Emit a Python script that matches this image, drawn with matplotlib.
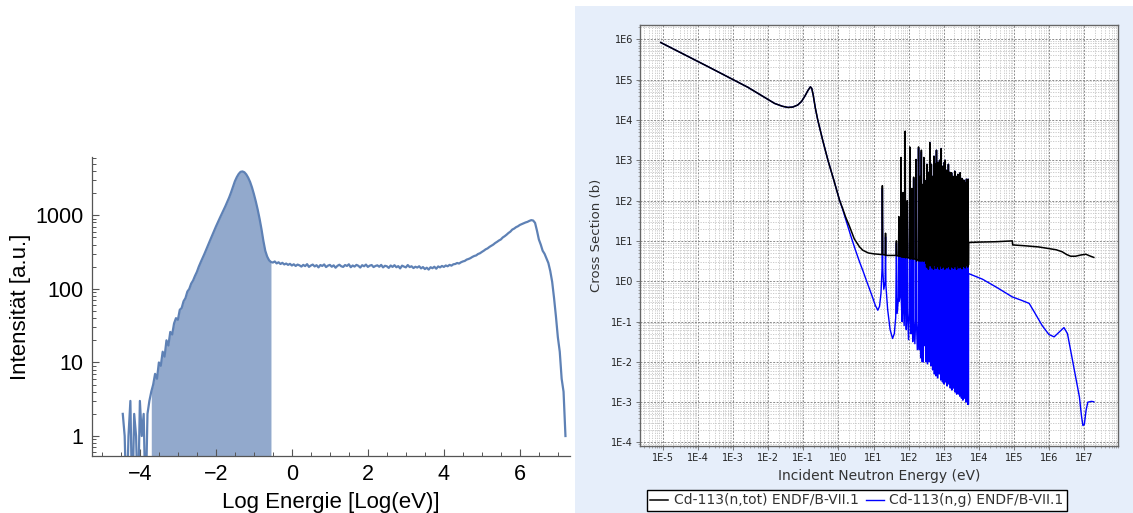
import numpy as np
import matplotlib.pyplot as plt
from matplotlib.patches import Rectangle
from matplotlib.ticker import FixedLocator, MultipleLocator, LogLocator, NullFormatter

# ---------------- left panel: measured neutron spectrum ----------------
# counts per bin of log10(E/eV); bins are 0.05 wide, first one at -4.45
bin_start = -4.45
bin_width = 0.05
counts = [
    2, 1, 0, 1, 3, 0, 2, 1, 0, 3, 1, 2, 0, 2, 3,
    4, 5, 7, 6, 10, 9, 14, 12, 20, 17, 26, 24, 34, 40, 38, 52, 55, 68, 75, 92,
    100, 118, 130, 150, 170, 200, 230, 262, 300, 345, 400, 460, 530, 610, 700, 800, 910, 1030, 1170, 1330,
    1520, 1750, 2050, 2450, 2900, 3300, 3650, 3900, 3950, 3850, 3600, 3250, 2850, 2400, 1950, 1550, 1200, 900, 650, 450,
    330, 275, 245, 232, 228, 236, 222, 230, 218, 226, 215, 221, 212, 219, 208, 216, 205, 214, 209, 201,
    212, 204, 217, 199, 208, 214, 202, 210, 196, 211, 205, 215, 198, 207, 212, 200, 209, 194, 206, 213,
    203, 199, 211, 205, 216, 197, 208, 201, 212, 206, 195, 210, 203, 214, 199, 207, 211, 198, 205, 209,
    200, 212, 196, 206, 203, 193, 208, 199, 210, 197, 204, 190, 207, 201, 196, 211, 198, 203, 192, 200,
    195, 203, 190, 198, 186, 194, 183, 197, 191, 200, 188, 202, 196, 205, 199, 208, 203, 212, 207, 216,
    218, 225, 221, 230, 236, 240, 250, 255, 262, 272, 280, 285, 298, 305, 318, 330, 345, 355, 372, 385,
    400, 420, 436, 455, 470, 500, 520, 545, 575, 600, 640, 660, 690, 710, 740, 760, 780, 800, 815, 840,
    860, 850, 790, 620, 470, 400, 330, 300, 260, 225, 175, 125, 75, 42, 22, 14, 6, 4, 1,
]
thermal_lo, thermal_hi = -3.70, -0.55   # shaded thermal part

# ---------------- right panel: Cd-113 cross sections ----------------
# all values are log10(E/eV) and log10(sigma/b)
# thermal range, where capture ~ total
thermal_loge = [-5.06, -3.71, -2.58, -2.2, -1.82, -1.6, -1.44, -1.3, -1.16, -1.05, -0.95, -0.87,
                -0.80, -0.76, -0.72, -0.66, -0.59, -0.45, -0.30, -0.13, 0.03]
thermal_logxs = [5.92, 5.32, 4.81, 4.61, 4.41, 4.34, 4.31, 4.32, 4.37, 4.46, 4.60, 4.73,
                 4.82, 4.78, 4.62, 4.30, 4.00, 3.50, 3.00, 2.50, 2.01]

# total, 1 eV up to the dense resonance cluster
tot_loge = [0.12, 0.20, 0.31, 0.45, 0.60, 0.69, 0.85, 1.00,
            1.24, 1.25, 1.262, 1.33, 1.34, 1.35, 1.64, 1.65, 1.66, 1.71, 1.72, 1.73,
            1.77, 1.78, 1.79, 1.83, 1.84, 1.85, 1.89, 1.90, 1.91, 1.95, 1.96, 1.97,
            2.02, 2.03, 2.04, 2.08, 2.09, 2.10, 2.13, 2.14, 2.15, 2.20, 2.21, 2.22,
            2.27, 2.28, 2.29, 2.31, 2.32, 2.33, 2.35, 2.36, 2.37, 2.39, 2.40, 2.41,
            2.42, 2.43, 2.44]
tot_logxs = [1.80, 1.60, 1.37, 1.05, 0.85, 0.77, 0.70, 0.68,
             0.66, 2.37, 0.66, 0.65, 1.19, 0.64, 0.64, 1.00, 0.63, 0.63, 1.60, 0.62,
             0.62, 3.07, 0.60, 0.60, 2.20, 0.60, 0.60, 3.72, 0.58, 0.60, 2.00, 0.58,
             0.58, 3.33, 0.55, 0.58, 2.30, 0.55, 0.56, 2.58, 0.55, 0.55, 3.02, 0.50,
             0.55, 3.33, 0.50, 0.55, 2.60, 0.50, 0.55, 3.25, 0.50, 0.55, 2.40, 0.50,
             0.55, 3.07, 0.50]

# capture, same range
cap_loge = [0.12, 0.20, 0.36, 0.48, 0.60, 0.70, 0.79, 0.95, 1.05, 1.12, 1.17, 1.21,
            1.24, 1.25, 1.262, 1.29, 1.33, 1.34, 1.35, 1.40, 1.47, 1.54, 1.59, 1.63,
            1.65, 1.67, 1.71, 1.72, 1.73, 1.77, 1.78, 1.79, 1.81, 1.83, 1.84, 1.85,
            1.87, 1.89, 1.90, 1.91, 1.93, 1.95, 1.96, 1.97, 1.995, 2.02, 2.03, 2.04,
            2.065, 2.08, 2.09, 2.10, 2.115, 2.13, 2.14, 2.15, 2.175, 2.20, 2.21, 2.22,
            2.245, 2.27, 2.28, 2.29, 2.30, 2.31, 2.32, 2.33, 2.34, 2.35, 2.36, 2.37,
            2.385, 2.39, 2.40, 2.41, 2.415, 2.42, 2.43, 2.44]
cap_logxs = [1.78, 1.55, 1.10, 0.78, 0.48, 0.25, 0.03, -0.35, -0.60, -0.72, -0.62, -0.30,
             0.30, 2.30, 0.30, -0.20, 0.00, 1.10, -0.10, -0.70, -1.20, -1.42, -1.30, -0.90,
             0.95, -0.80, -0.40, 1.55, -0.50, -0.30, 3.05, -0.50, -1.00, -0.60, 2.15, -0.50,
             -1.10, -0.50, 3.70, -0.50, -1.20, -0.60, 1.95, -0.80, -1.45, -0.70, 3.30, -0.70,
             -1.30, -0.80, 2.25, -0.90, -1.50, -1.00, 2.55, -1.00, -1.55, -0.90, 3.00, -1.00,
             -1.70, -1.00, 3.30, -1.20, -1.70, -1.30, 2.55, -1.40, -1.90, -1.20, 3.20, -1.30,
             -2.00, -1.50, 2.35, -1.50, -2.00, -1.40, 3.00, -1.60]

# dense cluster: resonance energies, peak of total,
# and the dip of total / capture after each resonance
res_loge = [2.47, 2.50, 2.52, 2.55, 2.57, 2.60, 2.62, 2.645, 2.67, 2.69, 2.72, 2.74, 2.765, 2.79,
            2.81, 2.835, 2.86, 2.88, 2.90, 2.925, 2.95, 2.97, 2.99, 3.015, 3.04, 3.06, 3.08, 3.105,
            3.13, 3.15, 3.17, 3.195, 3.22, 3.24, 3.26, 3.285, 3.31, 3.33, 3.35, 3.375, 3.40, 3.42,
            3.44, 3.465, 3.49, 3.51, 3.53, 3.555, 3.58, 3.60, 3.62, 3.645, 3.67, 3.69]
res_peak = [2.5, 2.1, 2.9, 2.3, 2.7, 3.44, 2.4, 2.9, 2.6, 2.58, 3.1, 2.5, 2.9, 3.25,
            2.7, 2.95, 2.6, 3.0, 2.8, 3.29, 2.6, 2.85, 2.7, 2.95, 3.0, 2.6, 2.75, 2.5,
            2.9, 2.6, 2.7, 2.45, 2.69, 2.5, 2.6, 2.4, 2.73, 2.55, 2.6, 2.4, 2.65, 2.5,
            2.45, 2.69, 2.4, 2.55, 2.53, 2.35, 2.5, 2.45, 2.4, 2.53, 2.45, 2.53]
res_tot_dip = [0.45, 0.35, 0.5, 0.3, 0.42, 0.38, 0.5, 0.33, 0.45, 0.3, 0.4, 0.48, 0.32, 0.42,
               0.36, 0.5, 0.3, 0.44, 0.38, 0.32, 0.47, 0.35, 0.42, 0.3, 0.45, 0.38, 0.33, 0.48,
               0.36, 0.42, 0.3, 0.45, 0.35, 0.4, 0.32, 0.47, 0.36, 0.42, 0.3, 0.44, 0.38, 0.33,
               0.46, 0.35, 0.4, 0.31, 0.45, 0.37, 0.42, 0.33, 0.46, 0.38, 0.35, 0.40]
res_cap_dip = [-2.0, -1.5, -2.05, -1.7, -2.0, -1.6, -2.1, -1.8, -2.2, -1.7, -2.3, -1.9, -2.35, -2.0,
               -2.4, -2.0, -2.3, -2.1, -2.45, -2.0, -2.5, -2.2, -2.55, -2.1, -2.5, -2.3, -2.6, -2.2,
               -2.55, -2.35, -2.65, -2.3, -2.7, -2.4, -2.65, -2.45, -2.75, -2.4, -2.8, -2.5, -2.8, -2.55,
               -2.85, -2.6, -2.9, -2.6, -2.95, -2.7, -2.9, -2.75, -3.0, -2.8, -3.05, -3.05]

# fast range above the resonance cluster
tot_fast_loge = [3.705, 4.0, 4.5, 4.95, 4.96, 5.3, 5.7, 5.99, 6.2, 6.37, 6.5, 6.61, 6.75, 6.9, 7.04, 7.15, 7.27]
tot_fast_logxs = [0.96, 0.97, 0.98, 1.00, 0.90, 0.88, 0.85, 0.81, 0.78, 0.73, 0.66, 0.62, 0.62, 0.65, 0.67, 0.63, 0.59]
cap_fast_loge = [3.705, 3.9, 4.1, 4.5, 4.95, 5.2, 5.43, 5.6, 5.8, 5.99, 6.14, 6.3, 6.42, 6.52, 6.65,
                 6.78, 6.86, 6.92, 6.96, 7.0, 7.05, 7.1, 7.2, 7.27]
cap_fast_logxs = [0.19, 0.12, 0.05, -0.15, -0.39, -0.47, -0.55, -0.80, -1.10, -1.32, -1.38, -1.25, -1.15, -1.30, -1.90,
                  -2.50, -2.87, -3.35, -3.58, -3.55, -3.20, -3.00, -2.98, -2.99]

legend_labels = ["Cd-113(n,tot) ENDF/B-VII.1", "Cd-113(n,g) ENDF/B-VII.1"]


def cluster(peak_v, dip_v):
    # peak at each resonance, dip half way to the next one
    e = np.asarray(res_loge)
    mids = np.append((e[:-1] + e[1:]) / 2, e[-1] + 0.01)
    xs = np.column_stack([e, mids]).ravel()
    ys = np.column_stack([peak_v, dip_v]).ravel()
    return xs, ys


fig = plt.figure(figsize=(11.33, 5.13), dpi=100)

# ---------------- left panel ----------------
blue_m = '#5E81B5'
ax1 = fig.add_axes([0.0812, 0.1111, 0.4219, 0.5828])
x = bin_start + bin_width * np.arange(len(counts))
y = np.array(counts, dtype=float)
y = np.where(y > 0, y, 0.1)      # empty bins drop below the axis
m = (x >= thermal_lo - 1e-9) & (x <= thermal_hi + 1e-9)
ax1.fill_between(x[m], 0.1, y[m], color=blue_m, alpha=0.68, lw=0)
ax1.plot(x, y, color=blue_m, lw=1.6)
ax1.set_yscale('log')
ax1.set_xlim(-5.26, 7.32)
ax1.set_ylim(0.535, 6200)
for s in ['top', 'right']:
    ax1.spines[s].set_visible(False)
for s in ['left', 'bottom']:
    ax1.spines[s].set_color('#555555')
    ax1.spines[s].set_linewidth(0.9)
ax1.xaxis.set_major_locator(FixedLocator([-4, -2, 0, 2, 4, 6]))
ax1.xaxis.set_minor_locator(MultipleLocator(0.5))
ax1.yaxis.set_major_locator(FixedLocator([1, 10, 100, 1000]))
ax1.set_yticklabels(['1', '10', '100', '1000'])
ax1.yaxis.set_minor_locator(LogLocator(base=10, subs=np.arange(2, 10), numticks=20))
ax1.yaxis.set_minor_formatter(NullFormatter())
ax1.tick_params(which='major', direction='in', length=5, width=0.8, color='#555555',
                labelsize=15.5, pad=6)
ax1.tick_params(which='minor', direction='in', length=3, width=0.7, color='#555555')
for lab in ax1.get_xticklabels() + ax1.get_yticklabels():
    lab.set_family('Liberation Sans')
ax1.set_ylabel('Intensität [a.u.]', fontsize=16, family='Liberation Sans', labelpad=3)
ax1.set_xlabel('Log Energie [Log(eV)]', fontsize=16, family='Liberation Sans', labelpad=5)

# ---------------- right panel ----------------
fig.patches.append(Rectangle((575 / 1133, 0), 558 / 1133, 507 / 513, transform=fig.transFigure,
                             facecolor='#E6EEFA', edgecolor='none', zorder=-5))
ax2 = fig.add_axes([0.5649, 0.1306, 0.4219, 0.8207])
ax2.set_facecolor('white')

cx_t, cy_t = cluster(res_peak, res_tot_dip)
cx_c, cy_c = cluster(res_peak, res_cap_dip)
tot_x = np.concatenate([thermal_loge, tot_loge, cx_t, tot_fast_loge])
tot_y = np.concatenate([thermal_logxs, tot_logxs, cy_t, tot_fast_logxs])
cap_x = np.concatenate([thermal_loge, cap_loge, cx_c, cap_fast_loge])
cap_y = np.concatenate([thermal_logxs, cap_logxs, cy_c, cap_fast_logxs])

l_cap, = ax2.plot(10 ** cap_x, 10 ** cap_y, color='#0000FF', lw=1.0, zorder=3)
l_tot, = ax2.plot(10 ** tot_x, 10 ** tot_y, color='#000000', lw=1.1, zorder=4)

ax2.set_xscale('log')
ax2.set_yscale('log')
ax2.set_xlim(10 ** -5.65, 10 ** 7.96)
ax2.set_ylim(10 ** -4.087, 10 ** 6.355)
xk = np.arange(-5, 8)
yk = np.arange(-4, 7)
ax2.set_xticks(10.0 ** xk)
ax2.set_xticklabels([f'1E{k}' for k in xk])
ax2.set_yticks(10.0 ** yk)
ax2.set_yticklabels([f'1E{k}' for k in yk])
ax2.xaxis.set_minor_locator(LogLocator(base=10, subs=np.arange(2, 10), numticks=40))
ax2.yaxis.set_minor_locator(LogLocator(base=10, subs=np.arange(2, 10), numticks=40))
ax2.xaxis.set_minor_formatter(NullFormatter())
ax2.yaxis.set_minor_formatter(NullFormatter())
ax2.tick_params(which='major', direction='out', length=3, width=0.6, color='#666666',
                labelsize=7, labelcolor='#222222', pad=2)
ax2.tick_params(which='minor', direction='out', length=1.5, width=0.5, color='#888888')
ax2.set_axisbelow(True)
ax2.grid(which='major', color='#8c8c8c', lw=0.7, ls=(0, (2, 1.5)))
ax2.grid(which='minor', color='#c4c4c4', lw=0.6, ls=(0, (1.5, 1.5)))
for s in ax2.spines.values():
    s.set_color('#666666')
    s.set_linewidth(1.0)
ax2.set_ylabel('Cross Section (b)', fontsize=9.5, color='#333333', labelpad=6)
ax2.set_xlabel('Incident Neutron Energy (eV)', fontsize=10, color='#333333', labelpad=4)

fig.legend([l_tot, l_cap], legend_labels, ncol=2, loc='upper center',
           bbox_to_anchor=(857 / 1133, 23 / 513), fontsize=10, frameon=True,
           fancybox=False, edgecolor='black', framealpha=1, borderpad=0.25,
           handlelength=1.3, handletextpad=0.4, columnspacing=0.5, borderaxespad=0)
for t in fig.legends[0].get_texts():
    t.set_color('#333333')
fig.legends[0].get_frame().set_linewidth(1.0)

fig.savefig('out.png', dpi=100)
